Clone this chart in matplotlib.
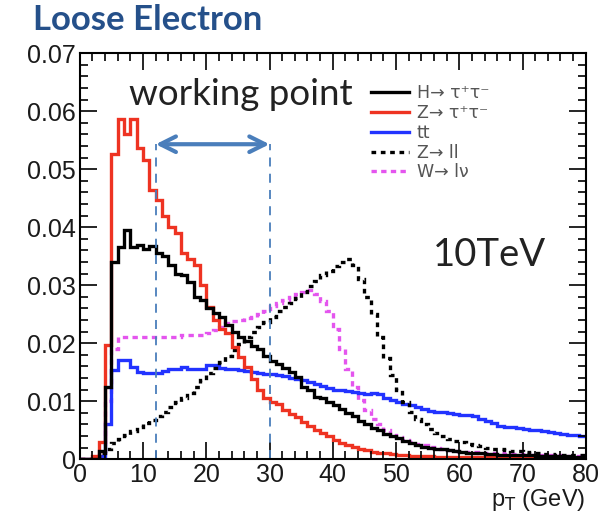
import numpy as np
import matplotlib.pyplot as plt
from matplotlib.ticker import MultipleLocator
from matplotlib.lines import Line2D

# pT bin edges, 1 GeV bins from 0 to 80
pt_edges = list(range(0, 81))

# H -> tau tau
h_tautau = [0, 0, 0, 0.0015, 0.0125, 0.034, 0.0366, 0.0395, 0.0365, 0.037,
            0.0363, 0.0368, 0.0355, 0.035, 0.0335, 0.032, 0.0318, 0.0306, 0.028, 0.0274,
            0.026, 0.0252, 0.0245, 0.0232, 0.022, 0.021, 0.0203, 0.0195, 0.019, 0.0178,
            0.017, 0.0165, 0.0157, 0.015, 0.0142, 0.0125, 0.012, 0.0108, 0.0105, 0.0098,
            0.0094, 0.0086, 0.008, 0.0074, 0.0066, 0.006, 0.0054, 0.005, 0.0044, 0.004,
            0.0036, 0.0032, 0.0028, 0.0024, 0.0021, 0.002, 0.0018, 0.0017, 0.0016, 0.0014,
            0.0012, 0.0011, 0.001, 0.001, 0.0009, 0.0009, 0.0008, 0.0008, 0.0008, 0.0007,
            0.0007, 0.0007, 0.0006, 0.0006, 0.0006, 0.0005, 0.0005, 0.0005, 0.0004, 0.0004]

# Z -> tau tau
z_tautau = [0, 0, 0.0005, 0.003, 0.0197, 0.0527, 0.0587, 0.0561, 0.0587, 0.0536,
            0.0516, 0.0464, 0.0447, 0.042, 0.040, 0.039, 0.0355, 0.0345, 0.0334, 0.030,
            0.0263, 0.024, 0.0225, 0.0217, 0.0194, 0.0176, 0.0159, 0.0139, 0.0119, 0.0105,
            0.0099, 0.0095, 0.0085, 0.0078, 0.0072, 0.0064, 0.0058, 0.005, 0.0045, 0.004,
            0.0033, 0.0028, 0.0024, 0.0021, 0.0018, 0.0016, 0.0013, 0.0011, 0.001, 0.0009,
            0.0008, 0.0007, 0.0006, 0.0005, 0.0005, 0.0005, 0.0004, 0.0004, 0.0004, 0.0004,
            0.0003, 0.0003, 0.0003, 0.0003, 0.0003, 0.0003, 0.0003, 0.0003, 0.0003, 0.0003,
            0.0002, 0.0002, 0.0002, 0.0002, 0.0002, 0.0002, 0.0002, 0.0002, 0.0002, 0.0002]

# ttbar
ttbar = [0, 0, 0, 0.0005, 0.006, 0.0153, 0.0171, 0.0171, 0.0159, 0.015,
         0.0148, 0.0148, 0.0148, 0.0152, 0.0156, 0.0156, 0.0159, 0.0155, 0.0155, 0.0156,
         0.0162, 0.0162, 0.0158, 0.0156, 0.0155, 0.0153, 0.0152, 0.015, 0.0149, 0.0147,
         0.0147, 0.0145, 0.0143, 0.014, 0.0138, 0.0136, 0.0134, 0.013, 0.0127, 0.0122,
         0.012, 0.0119, 0.0118, 0.0116, 0.0114, 0.0113, 0.0114, 0.0112, 0.0106, 0.0102,
         0.0098, 0.0096, 0.0093, 0.009, 0.0087, 0.0084, 0.0082, 0.0081, 0.008, 0.0078,
         0.0077, 0.0076, 0.0074, 0.007, 0.0066, 0.0062, 0.0058, 0.0056, 0.0055, 0.0053,
         0.0052, 0.0051, 0.005, 0.0049, 0.0047, 0.0045, 0.0044, 0.0042, 0.0041, 0.004]

# Z -> ll
z_ll = [0, 0, 0, 0.001, 0.0018, 0.0028, 0.0035, 0.0042, 0.0048, 0.0055,
        0.0062, 0.0068, 0.0074, 0.0082, 0.009, 0.0098, 0.0106, 0.0115, 0.0125, 0.0137,
        0.0148, 0.0158, 0.0168, 0.0178, 0.0188, 0.0198, 0.021, 0.022, 0.0228, 0.0236,
        0.0245, 0.0255, 0.0262, 0.027, 0.0278, 0.0288, 0.0298, 0.0308, 0.0318, 0.0325,
        0.0333, 0.034, 0.0345, 0.0335, 0.031, 0.028, 0.025, 0.021, 0.0175, 0.0145,
        0.012, 0.0098, 0.0082, 0.007, 0.006, 0.0052, 0.0045, 0.004, 0.0035, 0.0032,
        0.0029, 0.0027, 0.0024, 0.0022, 0.002, 0.0018, 0.0017, 0.0016, 0.0015, 0.0014,
        0.0012, 0.0011, 0.001, 0.0009, 0.0009, 0.0008, 0.0008, 0.0008, 0.0007, 0.0007]

# W -> l nu
w_lnu = [0, 0, 0, 0.001, 0.01, 0.019, 0.021, 0.021, 0.021, 0.021,
         0.021, 0.021, 0.021, 0.021, 0.021, 0.021, 0.0214, 0.0214, 0.0214, 0.0214,
         0.0218, 0.0222, 0.0228, 0.0234, 0.0238, 0.024, 0.0243, 0.0246, 0.025, 0.0255,
         0.0265, 0.027, 0.0275, 0.028, 0.0284, 0.0288, 0.0291, 0.0285, 0.0272, 0.0255,
         0.0225, 0.019, 0.0155, 0.0125, 0.0102, 0.0085, 0.007, 0.006, 0.005, 0.0042,
         0.0038, 0.0033, 0.003, 0.0027, 0.0024, 0.0021, 0.0019, 0.0017, 0.0016, 0.0015,
         0.0013, 0.0012, 0.0012, 0.0011, 0.0011, 0.001, 0.001, 0.0009, 0.0009, 0.0009,
         0.0008, 0.0008, 0.0008, 0.0007, 0.0007, 0.0007, 0.0006, 0.0006, 0.0006, 0.0006]

labels = ['H\u2192 \u03c4\u207a\u03c4\u207b', 'Z\u2192 \u03c4\u207a\u03c4\u207b', 'tt',
          'Z\u2192 ll', 'W\u2192 l\u03bd']

# working point window in pT
wp_lo, wp_hi = 12, 30
wp_top = 0.0543

fig = plt.figure(figsize=(6.14, 5.16), dpi=100)
ax = fig.add_axes([0.130, 0.110, 0.824, 0.787])

lw = 2.4
ax.stairs(w_lnu, pt_edges, color='#e455ee', lw=lw, linestyle=(0, (1.6, 1.3)), baseline=None)
ax.stairs(ttbar, pt_edges, color='#2233ff', lw=lw, baseline=None)
ax.stairs(z_ll, pt_edges, color='black', lw=lw, linestyle=(0, (1.4, 1.4)), baseline=None)
ax.stairs(z_tautau, pt_edges, color='#ee3322', lw=lw, baseline=None)
ax.stairs(h_tautau, pt_edges, color='black', lw=lw, baseline=None)

# legend handles in the order shown
handles = [Line2D([], [], color='black', lw=lw),
           Line2D([], [], color='#ee3322', lw=lw),
           Line2D([], [], color='#2233ff', lw=lw),
           Line2D([], [], color='black', lw=lw, linestyle=(0, (1.4, 1.4))),
           Line2D([], [], color='#e455ee', lw=lw, linestyle=(0, (1.6, 1.3)))]
leg = ax.legend(handles, labels, loc='upper left', bbox_to_anchor=(0.575, 0.923),
                frameon=False, fontsize=12.5, handlelength=2.2, handletextpad=0.45,
                labelspacing=0.1, borderpad=0, borderaxespad=0)
for t in leg.get_texts():
    t.set_color('#555555')

# working point markers
wp_color = '#4a7ebb'
ax.plot([wp_lo, wp_lo], [0, wp_top], color=wp_color, lw=1.3, linestyle=(0, (5, 4)))
ax.plot([wp_hi, wp_hi], [0, wp_top], color=wp_color, lw=1.3, linestyle=(0, (5, 4)))
ax.annotate('', xy=(wp_lo, wp_top), xytext=(wp_hi, wp_top),
            arrowprops=dict(arrowstyle='<->', lw=3, color=wp_color, mutation_scale=28,
                            shrinkA=0, shrinkB=0))
ax.text(25.4, 0.0628, 'working point', fontsize=26.5, family='Lato', color='#222222',
        ha='center', va='center')
ax.text(64.8, 0.0352, '10TeV', fontsize=27.5, family='Lato', color='#222222',
        ha='center', va='center')

ax.set_xlim(0, 80)
ax.set_ylim(0, 0.07)
ax.xaxis.set_major_locator(MultipleLocator(10))
ax.xaxis.set_minor_locator(MultipleLocator(2))
ax.yaxis.set_major_locator(MultipleLocator(0.01))
ax.yaxis.set_minor_locator(MultipleLocator(0.002))
ax.set_xticks(range(0, 81, 10))
ax.set_xticklabels(['0', '10', '20', '30', '40', '50', '60', '70', '80'])
ax.set_yticks([0, 0.01, 0.02, 0.03, 0.04, 0.05, 0.06, 0.07])
ax.set_yticklabels(['0', '0.01', '0.02', '0.03', '0.04', '0.05', '0.06', '0.07'])
ax.tick_params(which='both', direction='in', top=True, right=True, width=1.2,
               labelsize=18, labelcolor='#1a1a1a', pad=3, labelfontfamily='Liberation Sans')
ax.tick_params(which='major', length=12)
ax.tick_params(which='minor', length=6)
for s in ax.spines.values():
    s.set_linewidth(1.5)

ax.set_xlabel(r'p$_{\rm T}$ (GeV)', fontsize=17, family='Liberation Sans',
              color='#1a1a1a', loc='right', labelpad=0)

fig.text(0.053, 0.962, 'Loose Electron', fontsize=25, family='Lato', weight='bold',
         color='#25508a', ha='left', va='center')

fig.savefig('out.png', dpi=100)
